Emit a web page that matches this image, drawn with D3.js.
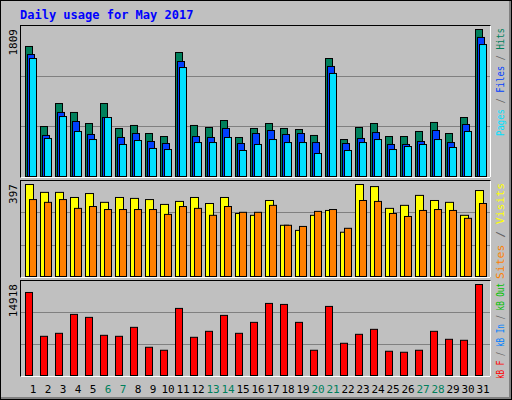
<!DOCTYPE html>
<html><head><meta charset="utf-8">
<script src="https://cdn.jsdelivr.net/npm/d3@7"></script>
<style>body{margin:0;background:#fff}svg{display:block}</style>
</head><body>
<svg id="chart" width="512" height="400"></svg>
<script>
// values
const days = d3.range(1, 32)
const weekend = [6, 7, 13, 14, 20, 21, 27, 28]
const hits  = [1600,615,898,788,652,898,591,628,529,492,1526,628,603,689,480,591,652,591,578,505,1452,455,603,652,492,492,554,665,529,726,1809]
const files = [1501,505,788,677,517,726,480,529,431,406,1415,492,480,591,406,529,566,517,529,418,1354,406,468,541,394,394,431,566,418,640,1711]
const pages = [1452,468,738,554,455,726,394,443,345,332,1341,418,418,480,320,394,455,418,418,283,1268,320,418,455,332,369,394,455,357,554,1624]
const visits = [397,363,363,341,358,320,341,337,332,311,324,341,315,341,272,264,328,221,199,264,285,191,397,388,294,307,350,328,320,264,371]
const sites  = [332,320,332,294,302,289,289,289,289,268,302,294,264,302,277,277,307,221,216,281,289,208,328,324,272,259,285,289,285,251,315]
const kbytes = [13612,6425,6915,10019,9529,6588,6425,7895,4628,4138,10999,6262,7242,9855,6915,8712,11815,11652,8712,4138,11325,5282,6752,7568,3975,3811,4138,7242,5935,5772,14918]

const svg = d3.select('#chart')
const mono = 'DejaVu Sans Mono'

// frame
svg.append('rect').attr('x', 0).attr('y', 0).attr('width', 512).attr('height', 400).attr('fill', '#808080')
svg.append('rect').attr('x', 0).attr('y', 0).attr('width', 509).attr('height', 397).attr('fill', '#c0c0c0')
svg.append('rect').attr('x', 0.5).attr('y', 0.5).attr('width', 511).attr('height', 399).attr('fill', 'none').attr('stroke', '#000')

svg.append('text').attr('x', 20).attr('y', 19).text('Daily usage for May 2017')
  .attr('font-family', mono).attr('font-weight', 'bold').attr('font-size', 12).attr('fill', '#0000ff')

var x = d3.scaleBand().domain(days).range([25, 490])

var panels = [
  { top: 25, bottom: 177, maxY: 29, max: 1809, len: 108, series: [[hits, '#00805c', 0, 7], [files, '#0040ff', 2, 7], [pages, '#00e0ff', 4, 7]],
    label: [['Pages', '#00e0ff'], [' / ', '#606060'], ['Files', '#0040ff'], [' / ', '#606060'], ['Hits', '#00805c']] },
  { top: 180, bottom: 277, maxY: 184, max: 397, len: 96, series: [[visits, '#ffff00', 0, 8], [sites, '#ff8000', 4, 7]],
    label: [['Sites', '#ff8000'], [' / ', '#606060'], ['Visits', '#ffff00']] },
  { top: 280, bottom: 376, maxY: 284, max: 14918, len: 96, series: [[kbytes, '#ff0000', 0, 7]],
    label: [['kB F', '#ff0000'], [' / ', '#606060'], ['kB In', '#0080ff'], [' / ', '#606060'], ['kB Out', '#00c000']] }
]

panels.forEach(function (p) {
  var y = d3.scaleLinear().domain([0, p.max]).range([p.bottom - 1, p.maxY])
  svg.append('rect').attr('x', 20.5).attr('y', p.top + 0.5).attr('width', 470).attr('height', p.bottom - p.top)
    .attr('fill', '#c0c0c0').attr('stroke', '#000')
  svg.append('path').attr('d', 'M490.5,' + (p.top + 0.5) + 'V' + (p.bottom + 0.5) + 'H20.5')
    .attr('stroke', '#fff').attr('fill', 'none')
  var h = p.bottom - p.top
  ;[1, 2].forEach(function (k) {
    var gy = Math.round(p.top + h * k / 3) + 0.5
    svg.append('line').attr('x1', 21).attr('x2', 490).attr('y1', gy).attr('y2', gy).attr('stroke', '#808080')
  })
  p.series.forEach(function (s) {
    svg.append('g').selectAll('rect').data(s[0]).enter().append('rect')
      .attr('x', function (d, i) { return x(days[i]) + s[2] + 0.5 })
      .attr('y', function (d) { return y(d) + 0.5 })
      .attr('width', s[3])
      .attr('height', function (d) { return p.bottom - 1 - y(d) })
      .attr('fill', s[1]).attr('stroke', '#000')
  })
  svg.append('text').attr('transform', 'translate(17,' + p.maxY + ') rotate(-90)')
    .attr('text-anchor', 'end').attr('font-family', mono).attr('font-size', 11).text(p.max)
  var t = svg.append('text').attr('transform', 'translate(504,' + (p.top + 3 + p.len) + ') rotate(-90)')
    .attr('font-family', mono).attr('font-size', 10)
    .attr('textLength', p.len).attr('lengthAdjust', 'spacingAndGlyphs')
  p.label.forEach(function (l) { t.append('tspan').attr('fill', l[1]).text(l[0]) })
})

svg.append('g').selectAll('text').data(days).enter().append('text')
  .attr('x', function (d) { return x(d) + 8 })
  .attr('y', 393)
  .attr('text-anchor', 'middle').attr('font-family', mono).attr('font-size', 11)
  .attr('fill', function (d) { return weekend.indexOf(d) >= 0 ? '#00805c' : '#000' })
  .text(function (d) { return d })
</script>
</body></html>
